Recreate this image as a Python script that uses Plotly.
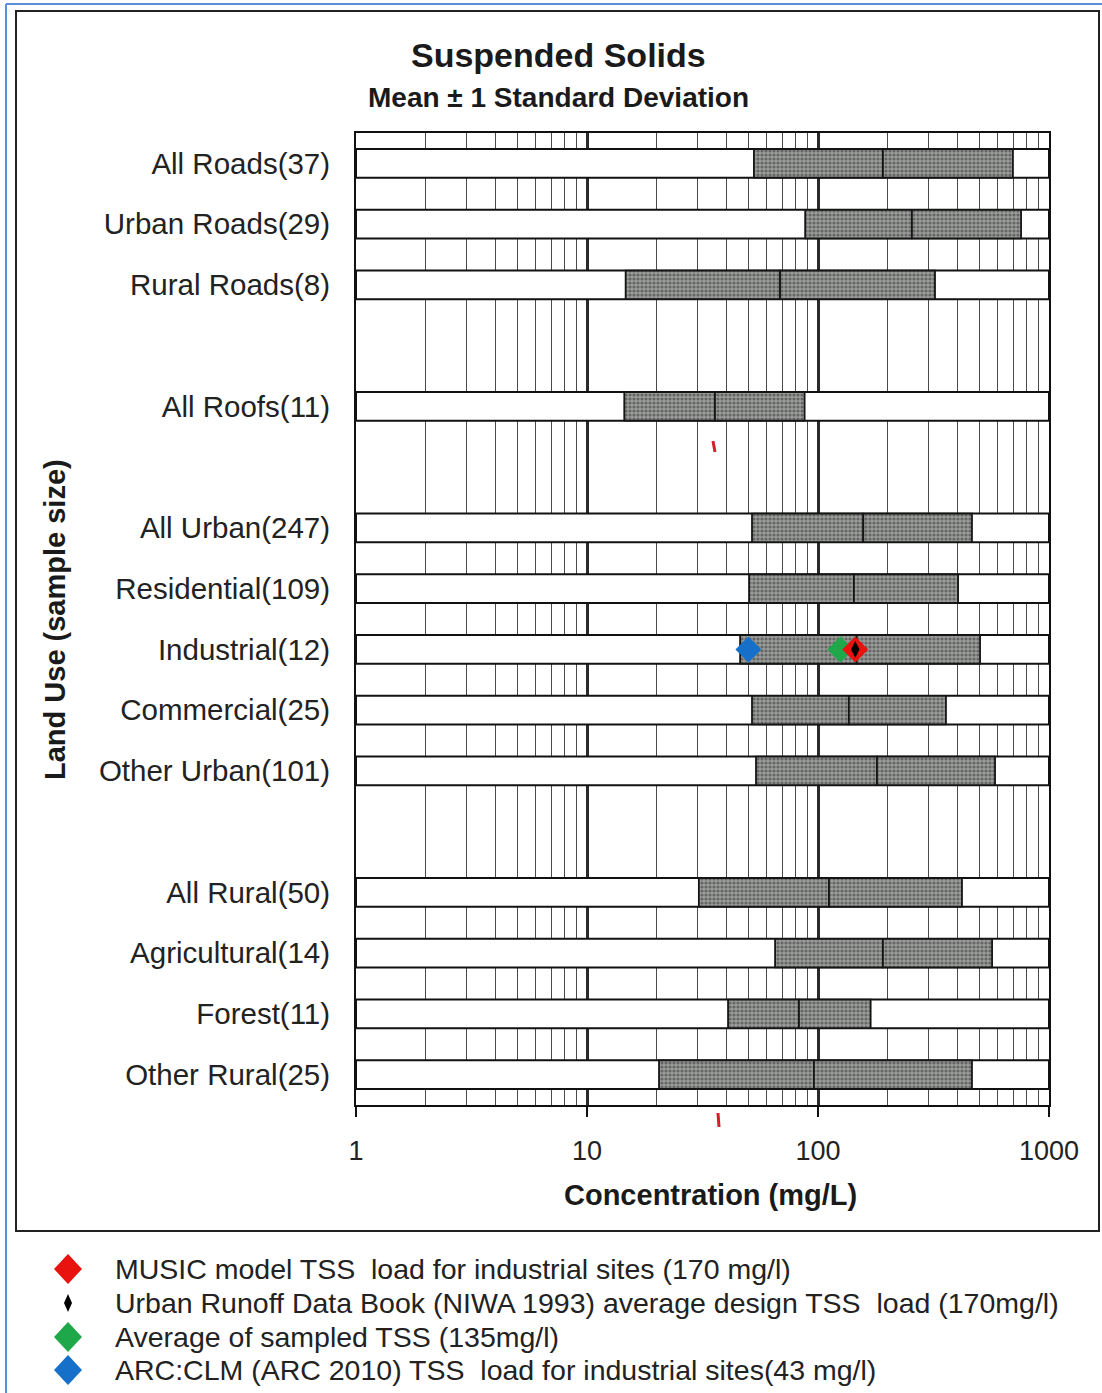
import plotly.graph_objects as go

# ---------------- data ----------------
categories = ["All Roads(37)", "Urban Roads(29)", "Rural Roads(8)",
              "All Roofs(11)",
              "All Urban(247)", "Residential(109)", "Industrial(12)", "Commercial(25)", "Other Urban(101)",
              "All Rural(50)", "Agricultural(14)", "Forest(11)", "Other Rural(25)"]
groups = ["Roads", "Roads", "Roads",
          "Roofs",
          "Urban", "Urban", "Urban", "Urban", "Urban",
          "Rural", "Rural", "Rural", "Rural"]
low_sd = [52.8, 88.0, 14.7, 14.5, 51.8, 50.3, 46.0, 51.8, 53.9, 30.5, 65.2, 40.8, 20.5]
mean_v = [191, 255, 68.5, 35.8, 157, 143, 147, 136, 180, 111.6, 191, 82.7, 96]
high_sd = [698, 757, 321, 87.5, 464, 404, 503, 358, 584, 420, 567, 169, 464]

x_tick_vals = [1, 10, 100, 1000]
x_tick_text = ["1", "10", "100", "1000"]

marker_names = ["MUSIC model TSS  load for industrial sites (170 mg/l)",
                "Urban Runoff Data Book (NIWA 1993) average design TSS  load (170mg/l)",
                "Average of sampled TSS (135mg/l)",
                "ARC:CLM (ARC 2010) TSS  load for industrial sites(43 mg/l)"]
marker_values = [145, 145, 125, 50]          # as plotted on the Industrial row
marker_colors = ["#e8130f", "#000000", "#1fa84a", "#1670c9"]
marker_symbols = ["diamond", "diamond-tall", "diamond", "diamond"]
marker_row = "Industrial(12)"
draw_order = [3, 2, 0, 1]

# ---------------- layout helpers ----------------
W, H = 1102, 1393
L, R, T, B = 356, 53, 133, 288
PW, PH = W - L - R, H - T - B


def px_x(px):
    return (px - L) / PW


def px_y(py):
    return 1 - (py - T) / PH


# slot positions: a blank slot between groups
slots = []
s = 0
for i, g in enumerate(groups):
    if i > 0 and g != groups[i - 1]:
        s += 1
    slots.append(s)
    s += 1
n_slots = s

fig = go.Figure()

# white full-width bars
fig.add_trace(go.Bar(
    y=slots, x=[x_tick_vals[-1] - x_tick_vals[0]] * len(slots), base=x_tick_vals[0],
    orientation="h", width=0.47,
    marker=dict(color="white", line=dict(color="#111111", width=2)),
    hoverinfo="skip"))

pattern = dict(shape=".", fgcolor="#2e2e2e", bgcolor="#9a9d9a", size=4, solidity=0.5)
# lower half (low -> mean)
fig.add_trace(go.Bar(
    y=slots, x=[m - l for m, l in zip(mean_v, low_sd)], base=low_sd,
    orientation="h", width=0.47,
    marker=dict(color="#9a9d9a", pattern=pattern, line=dict(color="#151515", width=1.8))))
# upper half (mean -> high)
fig.add_trace(go.Bar(
    y=slots, x=[h - m for h, m in zip(high_sd, mean_v)], base=mean_v,
    orientation="h", width=0.47,
    marker=dict(color="#9a9d9a", pattern=pattern, line=dict(color="#151515", width=1.8))))

ind_slot = slots[categories.index(marker_row)]
for k in draw_order:
    size = 12 if marker_symbols[k] == "diamond-tall" else 20
    fig.add_trace(go.Scatter(
        x=[marker_values[k]], y=[ind_slot], mode="markers",
        marker=dict(symbol=marker_symbols[k], size=size, color=marker_colors[k],
                    line=dict(width=0)),
        name=marker_names[k]))

minor_vals = [d * m for d in (1, 10, 100) for m in range(2, 10)]

fig.update_layout(
    width=W, height=H,
    margin=dict(l=L, r=R, t=T, b=B),
    plot_bgcolor="white", paper_bgcolor="white",
    barmode="overlay", showlegend=False,
    font=dict(family="Liberation Sans, Arial, sans-serif", color="#1a1a1a"),
    xaxis=dict(
        type="log", range=[0, 3],
        tickmode="array", tickvals=x_tick_vals, ticktext=x_tick_text,
        ticks="outside", ticklen=10, tickwidth=2, tickcolor="#111",
        ticklabelstandoff=11,
        tickfont=dict(size=27, color="#222"),
        showgrid=True, gridcolor="#2a2a2a", gridwidth=2.5,
        minor=dict(tickmode="array", tickvals=minor_vals, showgrid=True,
                   gridcolor="#4a4a4a", gridwidth=1.3, ticks=""),
        showline=True, mirror=True, linecolor="#111", linewidth=2, zeroline=False),
    yaxis=dict(
        range=[n_slots - 0.5, -0.5],
        tickmode="array", tickvals=slots, ticktext=categories,
        ticks="outside", ticklen=18, tickcolor="rgba(0,0,0,0)",
        tickfont=dict(size=29.5, color="#222"),
        showgrid=False, zeroline=False,
        showline=True, mirror=True, linecolor="#111", linewidth=2),
)

ann = []


def add_text(text, x, y, size, **kw):
    d = dict(text=text, x=px_x(x), y=px_y(y), xref="paper", yref="paper",
             xanchor="center", yanchor="middle", showarrow=False,
             font=dict(size=size, color="#1a1a1a"))
    d.update(kw)
    ann.append(d)


add_text("<b>Suspended Solids</b>", 558, 55, 34)
add_text("<b>Mean ± 1 Standard Deviation</b>", 558, 98, 28)
add_text("<b>Concentration (mg/L)</b>", 710, 1195, 29)
add_text("<b>Land Use (sample size)</b>", 55, 620, 29, textangle=-90)

shapes = []
# outer frame
shapes.append(dict(type="rect", xref="paper", yref="paper", x0=px_x(16), x1=px_x(1099),
                   y0=px_y(11), y1=px_y(1231), line=dict(color="#222", width=2)))
# blue page border (top and left)
shapes.append(dict(type="line", xref="paper", yref="paper", x0=px_x(6), x1=px_x(1102),
                   y0=px_y(4), y1=px_y(4), line=dict(color="#5b8fd6", width=2)))
shapes.append(dict(type="line", xref="paper", yref="paper", x0=px_x(6), x1=px_x(6),
                   y0=px_y(4), y1=px_y(1393), line=dict(color="#5b8fd6", width=2)))
# small red marks
shapes.append(dict(type="line", xref="paper", yref="paper", x0=px_x(713), x1=px_x(715),
                   y0=px_y(441), y1=px_y(452), line=dict(color="#d0202a", width=3)))
shapes.append(dict(type="line", xref="paper", yref="paper", x0=px_x(718), x1=px_x(719),
                   y0=px_y(1113), y1=px_y(1127), line=dict(color="#d0202a", width=3)))

# manual legend
legend_rows = [1269, 1303, 1337, 1370]
for k, row in enumerate(legend_rows):
    if marker_symbols[k] == "diamond-tall":
        hw, hh = 4, 9
    else:
        hw, hh = 14, 15
    cx, cy = 68, row
    shapes.append(dict(type="path", xref="paper", yref="paper",
                       xsizemode="pixel", ysizemode="pixel",
                       xanchor=px_x(cx), yanchor=px_y(cy),
                       path=f"M 0 {hh} L {hw} 0 L 0 {-hh} L {-hw} 0 Z",
                       fillcolor=marker_colors[k], line=dict(width=0)))
    add_text(marker_names[k], 113, row, 28.5, xanchor="left",
             font=dict(size=28.5, family="Liberation Sans, Arial", color="#222"))

fig.update_layout(annotations=ann, shapes=shapes)

fig.write_html("out.html", config=dict(displayModeBar=False),
               post_script="document.body.style.margin='0';document.documentElement.style.margin='0';")
